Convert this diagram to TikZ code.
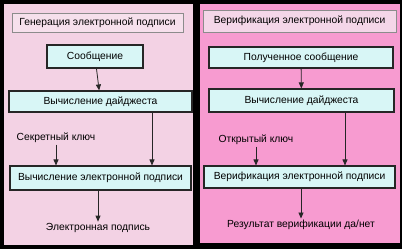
\documentclass[tikz,border=0pt]{standalone}
\usepackage{fontspec}
\setmainfont{Liberation Sans}
\usetikzlibrary{arrows.meta,positioning}
\definecolor{pinkA}{HTML}{F3D2E4}
\definecolor{pinkB}{HTML}{F79BD0}
\definecolor{titleA}{HTML}{F6E0EC}
\definecolor{titleB}{HTML}{F4D6E8}
\definecolor{cyanbox}{HTML}{D8F6F6}

\begin{document}
\begin{tikzpicture}[x=1pt,y=-1pt,>={Triangle[width=5pt,length=6pt]},
 t/.style={draw=black!45,fill=titleA,line width=0.8pt,minimum height=19pt,font=\fontsize{10.3}{12}\selectfont,inner sep=0pt},
 b/.style={draw=black!85,fill=cyanbox,line width=1.1pt,minimum height=22pt,font=\fontsize{10.3}{12}\selectfont,inner sep=0pt},
 l/.style={font=\fontsize{10.3}{12}\selectfont,inner sep=1.5pt},
 a/.style={->,line width=0.8pt,draw=black!85}]
 \fill[black] (0,0) rectangle (402,249);
 \fill[pinkA] (4,4) rectangle (193,245);
 \fill[pinkB] (200,4) rectangle (400,243);
 % generation
 \node[t,minimum width=171pt] (title1) at (97.5,22.5) {Генерация электронной подписи};
 \node[b,minimum width=96pt,minimum height=23pt] (msg1) at (95,56.5) {Сообщение};
 \node[b,minimum width=183pt,minimum height=21pt] (dig1) at (100.5,101.5) {Вычисление дайджеста};
 \node[l] (key1) at (56,138) {Секретный ключ};
 \node[b,minimum width=181pt,minimum height=24pt] (sig1) at (100.5,178) {Вычисление электронной подписи};
 \node[l] (out1) at (98,228) {Электронная подпись};
 \draw[a] (msg1)--(dig1);
 \draw[a] (dig1.south -| 152,0)--(sig1.north -| 152,0);
 \draw[a] (key1.south)--(sig1.north -| key1.south);
 \draw[a] (sig1.south -| out1.north)--(out1.north);
 % verification
 \node[t,fill=titleB,minimum width=193pt,minimum height=22pt] (title2) at (299.5,21) {Верификация электронной подписи};
 \node[b,minimum width=184pt,minimum height=21pt] (msg2) at (301,57.5) {Полученное сообщение};
 \node[b,minimum width=185pt,minimum height=23pt] (dig2) at (301.5,100.5) {Вычисление дайджеста};
 \node[l] (key2) at (256,140) {Открытый ключ};
 \node[b,minimum width=191pt,minimum height=22pt] (ver2) at (299.5,177) {Верификация электронной подписи};
 \node[l] (out2) at (301,225) {Результат верификации да/нет};
 \draw[a] (msg2)--(dig2);
 \draw[a] (dig2.south -| 345,0)--(ver2.north -| 345,0);
 \draw[a] (key2.south)--(ver2.north -| key2.south);
 \draw[a] (ver2.south -| out2.north)--(out2.north);
\end{tikzpicture}
\end{document}
